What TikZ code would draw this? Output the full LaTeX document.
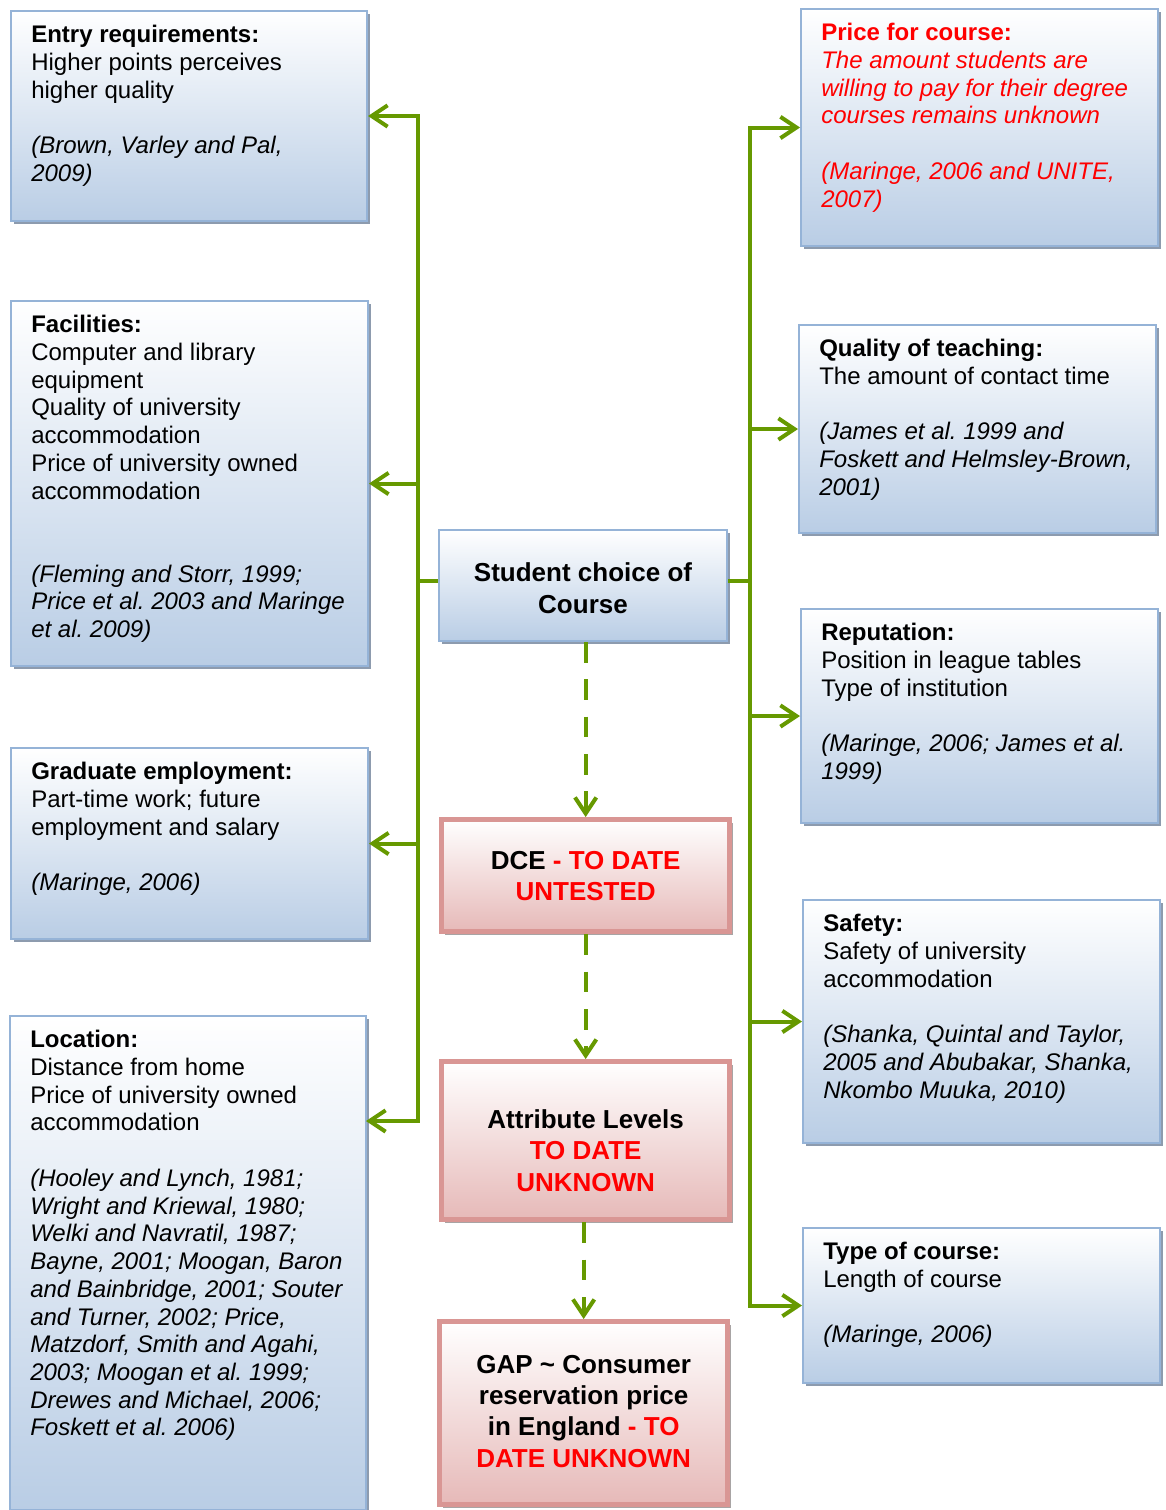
\documentclass[tikz,border=0pt]{standalone}
\usepackage{fontspec}
\setmainfont{Liberation Sans}
\usetikzlibrary{arrows.meta,shadows}
\frenchspacing

\definecolor{boxblue}{HTML}{B9CDE5}
\definecolor{boxedge}{HTML}{95B3D7}
\definecolor{redfill}{HTML}{E6B9B8}
\definecolor{rededge}{HTML}{D99694}
\definecolor{linkgreen}{RGB}{102,153,0}
\definecolor{bshadow}{HTML}{8D9BAE}
\definecolor{rshadow}{HTML}{A8A4A4}
\definecolor{alert}{HTML}{FF0000}

\begin{document}
\begin{tikzpicture}[x=0.75pt,y=-0.75pt,
  panel/.style 2 args={draw=boxedge, line width=1.5pt, top color=white, bottom color=boxblue,
    minimum width=#1*0.75pt, minimum height=#2*0.75pt, anchor=north west, inner sep=0pt,
    drop shadow={shadow xshift=2.5pt, shadow yshift=-2.5pt, fill=bshadow, opacity=1}},
  redpanel/.style 2 args={draw=rededge, line width=4pt, top color=white, bottom color=redfill,
    minimum width=#1*0.75pt, minimum height=#2*0.75pt, anchor=north west, inner sep=0pt,
    drop shadow={shadow xshift=2.5pt, shadow yshift=-2.5pt, fill=rshadow, opacity=1}},
  body/.style={anchor=north west, inner sep=0pt, align=left, font=\fontsize{18}{20.8}\selectfont},
  headline/.style={inner sep=0pt, align=center, font=\bfseries\fontsize{19.5}{23.5}\selectfont},
  link/.style={draw=linkgreen, line width=3pt},
  linkarrow/.style={link, -{Straight Barb[length=12pt, width=16pt, line width=3pt]}},
  dasharrow/.style={linkarrow, dash pattern=on 15.5pt off 12.5pt}
]
\useasboundingbox (0,0) rectangle (1165,1510);

% ---- left column ----
\node[panel={356}{210}] (entry) at (10,10) {};
\node[panel={357}{365}] (facil) at (10,300) {};
\node[panel={357}{191}] (grad) at (10,747) {};
\node[panel={356}{494}] (loc) at (9,1015) {};

% ---- right column ----
\node[panel={357}{237}] (price) at (800,8) {};
\node[panel={357}{208}] (qual) at (798,324) {};
\node[panel={357}{214}] (rep) at (800,608) {};
\node[panel={357}{243}] (safe) at (802,899) {};
\node[panel={357}{155}] (ctype) at (802,1227) {};

% ---- centre column ----
\node[panel={288}{111}] (student) at (438,529) {};
\node[redpanel={288}{112}] (dce) at (439,817) {};
\node[redpanel={288}{158}] (attr) at (439,1059) {};
\node[redpanel={288}{183}] (gap) at (437,1319) {};

% ---- panel texts ----
\node[body] (entryT) at ([shift={(21,15)}]entry.north west)
  {\textbf{Entry requirements:}\\Higher points perceives\\higher quality\\[20.8pt]
   \textit{(Brown, Varley and Pal,}\\\textit{2009)}};
\node[body] (facilT) at ([shift={(21,15)}]facil.north west)
  {\textbf{Facilities:}\\Computer and library\\equipment\\Quality of university\\accommodation\\
   Price of university owned\\accommodation\\[41.6pt]
   \textit{(Fleming and Storr, 1999;}\\\textit{Price et al. 2003 and Maringe}\\\textit{et al. 2009)}};
\node[body] (gradT) at ([shift={(21,15)}]grad.north west)
  {\textbf{Graduate employment:}\\Part-time work; future\\employment and salary\\[20.8pt]
   \textit{(Maringe, 2006)}};
\node[body] (locT) at ([shift={(21,15)}]loc.north west)
  {\textbf{Location:}\\Distance from home\\Price of university owned\\accommodation\\[20.8pt]
   \textit{(Hooley and Lynch, 1981;}\\\textit{Wright and Kriewal, 1980;}\\
   \textit{Welki and Navratil, 1987;}\\\textit{Bayne, 2001; Moogan, Baron}\\
   \textit{and Bainbridge, 2001; Souter}\\\textit{and Turner, 2002; Price,}\\
   \textit{Matzdorf, Smith and Agahi,}\\\textit{2003; Moogan et al. 1999;}\\
   \textit{Drewes and Michael, 2006;}\\\textit{Foskett et al. 2006)}};

\node[body, text=alert] (priceT) at ([shift={(21,15)}]price.north west)
  {\textbf{Price for course:}\\\textit{The amount students are}\\
   \textit{willing to pay for their degree}\\\textit{courses remains unknown}\\[20.8pt]
   \textit{(Maringe, 2006 and UNITE,}\\\textit{2007)}};
\node[body] (qualT) at ([shift={(21,15)}]qual.north west)
  {\textbf{Quality of teaching:}\\The amount of contact time\\[20.8pt]
   \textit{(James et al. 1999 and}\\\textit{Foskett and Helmsley-Brown,}\\\textit{2001)}};
\node[body] (repT) at ([shift={(21,15)}]rep.north west)
  {\textbf{Reputation:}\\Position in league tables\\Type of institution\\[20.8pt]
   \textit{(Maringe, 2006; James et al.}\\\textit{1999)}};
\node[body] (safeT) at ([shift={(21,15)}]safe.north west)
  {\textbf{Safety:}\\Safety of university\\accommodation\\[20.8pt]
   \textit{(Shanka, Quintal and Taylor,}\\\textit{2005 and Abubakar, Shanka,}\\
   \textit{Nkombo Muuka, 2010)}};
\node[body] (ctypeT) at ([shift={(21,15)}]ctype.north west)
  {\textbf{Type of course:}\\Length of course\\[20.8pt]\textit{(Maringe, 2006)}};

\node[headline] (studentT) at ([yshift=-2pt]student.center) {Student choice of\\Course};
\node[headline] (dceT) at ([yshift=-0.5pt]dce.center)
  {DCE {\color{alert}- TO DATE}\\{\color{alert}UNTESTED}};
\node[headline] (attrT) at ([yshift=-7.5pt]attr.center)
  {Attribute Levels\\{\color{alert}TO DATE}\\{\color{alert}UNKNOWN}};
\node[headline] (gapT) at ([yshift=1.5pt]gap.center)
  {GAP \textasciitilde{} Consumer\\reservation price\\in England {\color{alert}- TO}\\{\color{alert}DATE UNKNOWN}};

% ---- connectors ----
\coordinate (ltrunk) at (418,581);
\coordinate (rtrunk) at (750,581);
\coordinate (locin) at (366,1121);

\draw[link] (student.west |- ltrunk) -- (ltrunk);
\draw[linkarrow] (ltrunk) |- (entry.east);
\draw[linkarrow] (ltrunk) |- (facil.east);
\draw[linkarrow] (ltrunk) |- (grad.east);
\draw[linkarrow] (ltrunk) |- (locin);

\draw[link] (student.east |- rtrunk) -- (rtrunk);
\draw[linkarrow] (rtrunk) |- (price.west);
\draw[linkarrow] (rtrunk) |- (qual.west);
\draw[linkarrow] (rtrunk) |- (rep.west);
\draw[linkarrow] (rtrunk) |- (safe.west);
\draw[linkarrow] (rtrunk) |- (ctype.west);

\draw[dasharrow] (student.south -| dce.north) -- (dce.north);
\draw[dasharrow] (dce.south) -- (attr.north);
\draw[dasharrow] (attr.south -| gap.north) -- (gap.north);
\end{tikzpicture}
\end{document}
